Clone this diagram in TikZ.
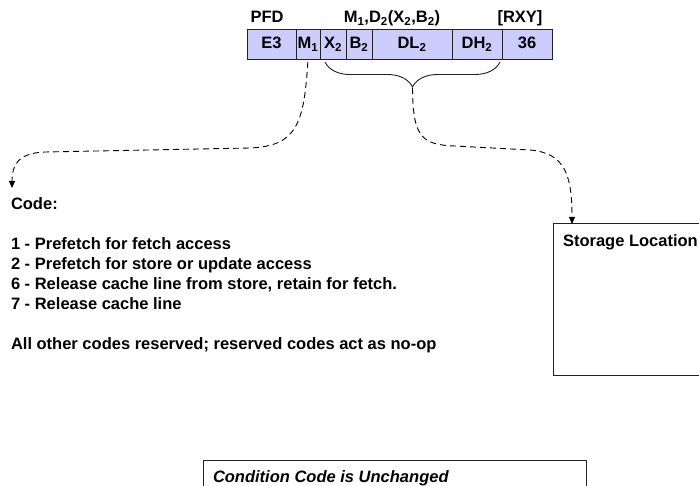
\documentclass[tikz,border=0pt]{standalone}
\usepackage{fontspec}
\setmainfont{Liberation Sans}
\usetikzlibrary{arrows.meta, positioning, decorations.pathreplacing}
\definecolor{fieldbg}{HTML}{CCCCFF}
\definecolor{edge}{HTML}{222222}
\newcommand{\lsub}[1]{\textsubscript{#1}}

\begin{document}
\begin{tikzpicture}[
    x=1pt, y=-1pt,
    every node/.style={font=\fontsize{16.5}{20}\selectfont\bfseries, inner sep=0pt, outer sep=0pt},
    field/.style={rectangle, draw=edge, line width=0.9pt, fill=fieldbg,
                  minimum height=30pt, text height=12pt, text depth=3pt},
    box/.style={rectangle, draw=edge, line width=1pt},
    codeline/.style={anchor=west, text height=14pt, text depth=6pt},
    darr/.style={-{Triangle[length=7pt,width=6pt]}, dash pattern=on 6pt off 4pt, line width=0.9pt}
]
    \useasboundingbox (0,0) rectangle (699,486);

    % instruction format
    \node[field, minimum width=49pt, anchor=north west] (e3) at (247,29) {E3};
    \node[field, minimum width=24pt, right=0pt of e3] (m1) {M\lsub{1}};
    \node[field, minimum width=26pt, right=0pt of m1] (x2) {X\lsub{2}};
    \node[field, minimum width=26pt, right=0pt of x2] (b2) {B\lsub{2}};
    \node[field, minimum width=80pt, right=0pt of b2] (dl2) {DL\lsub{2}};
    \node[field, minimum width=50pt, right=0pt of dl2] (dh2) {DH\lsub{2}};
    \node[field, minimum width=50pt, right=0pt of dh2] (op) {36};

    \node[anchor=base] (pfd) at (267,23) {PFD};
    \node[anchor=base] (opnds) at (392,23) {M\lsub{1},D\lsub{2}(X\lsub{2},B\lsub{2})};
    \node[anchor=base] (rxy) at (520,23) {[RXY]};

    % second operand brace
    \draw[edge, line width=0.9pt, decorate, decoration={brace, mirror, amplitude=25pt}]
        (325,62) -- (500,62);
    \coordinate (bracetip) at (412.5,88);

    % code list
    \node[codeline, anchor=base west] (codehdr) at (11,210) {Code:};
    \node[codeline, below=20pt of codehdr.south west, anchor=north west] (c1) {1 - Prefetch for fetch access};
    \node[codeline, below=0pt of c1.south west, anchor=north west] (c2) {2 - Prefetch for store or update access};
    \node[codeline, below=0pt of c2.south west, anchor=north west] (c6) {6 - Release cache line from store, retain for fetch.};
    \node[codeline, below=0pt of c6.south west, anchor=north west] (c7) {7 - Release cache line};
    \node[codeline, below=20pt of c7.south west, anchor=north west] (cother) {All other codes reserved; reserved codes act as no-op};
    \coordinate (codetip) at (12,188);

    % storage operand
    \node[box, minimum width=170pt, minimum height=151pt, anchor=north west] (store) at (553,224) {};
    \node[anchor=base west] (storelbl) at (563,247) {Storage Location};
    \coordinate (storein) at (572,224);

    % condition code
    \node[box, minimum width=383pt, minimum height=40pt, anchor=north west] (ccbox) at (203,460) {};
    \node[anchor=base west, font=\fontsize{16.5}{20}\selectfont\bfseries\itshape] (cclbl) at (213,482) {Condition Code is Unchanged};

    \draw[darr, shorten <=3pt] (m1.south) .. controls (304,125) and (296,146) .. (250,148)
        -- (45,152) .. controls (18,153) and (12,165) .. (codetip);
    \draw[darr] (bracetip) .. controls (413,135) and (420,145) .. (455,146)
        -- (530,150) .. controls (565,153) and (572,175) .. (storein);
\end{tikzpicture}
\end{document}
